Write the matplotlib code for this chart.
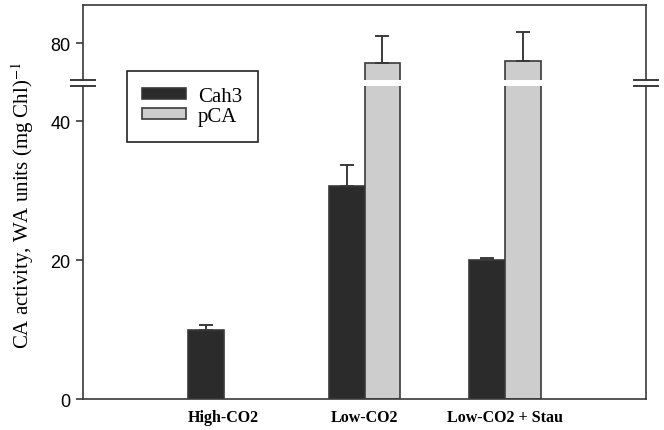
import matplotlib
matplotlib.use('Agg')
import matplotlib.pyplot as plt
import numpy as np
from matplotlib.lines import Line2D

plt.rcParams['mathtext.fontset'] = 'stix'

groups = ['High-CO2', 'Low-CO2', 'Low-CO2 + Stau']
cah3 = [9.9, 30.7, 20.0]
cah3_err = [0.8, 3.0, 0.3]
pca = [np.nan, 77.2, 77.45]
pca_err = [np.nan, 3.9, 4.2]

dark = '#2b2b2b'
light = '#cdcdcd'
edge = '#3a3a3a'

fig = plt.figure(figsize=(6.64, 4.31), dpi=100)
left, width = 0.125, 0.848
ax_top = fig.add_axes([left, 0.812, width, 0.175])
ax_low = fig.add_axes([left, 0.0719, width, 0.7251])

x = np.arange(1, len(groups) + 1)
w = 0.255
for ax in (ax_top, ax_low):
    ax.bar(x - w / 2, cah3, w, color=dark, edgecolor=edge, linewidth=1.2, label='Cah3')
    ax.bar(x + w / 2, pca, w, color=light, edgecolor=edge, linewidth=1.2, label='pCA')
    ax.errorbar(x - w / 2, cah3, yerr=[np.zeros(3), cah3_err], fmt='none',
                ecolor=edge, elinewidth=1.4, capsize=4.7, capthick=1.4)
    ax.errorbar(x + w / 2, pca, yerr=[np.zeros(3), pca_err], fmt='none',
                ecolor=edge, elinewidth=1.4, capsize=4.7, capthick=1.4)
    ax.set_xlim(0, 4)
    for s in ax.spines.values():
        s.set_linewidth(1.2)
        s.set_color(edge)
    ax.tick_params(axis='y', direction='out', length=5, width=1.2, color=edge,
                   labelsize=13, labelfontfamily='Liberation Sans', pad=4)

ax_low.set_ylim(0, 45)
ax_low.set_yticks([0, 20, 40])
ax_low.spines['top'].set_visible(False)
ax_low.set_xticks(x)
ax_low.set_xticklabels(groups, fontfamily='Liberation Serif', fontweight='bold', fontsize=11.5)
ax_low.tick_params(axis='x', length=0, pad=7)

ax_top.set_ylim(74.7, 85.55)
ax_top.set_yticks([80])
ax_top.spines['bottom'].set_visible(False)
ax_top.set_xticks([])

# break marks
d = 12 / 563
for xa in (0, 1):
    ax_top.add_line(Line2D([xa - d, xa + d], [0, 0], transform=ax_top.transAxes,
                           color=edge, lw=1.4, clip_on=False))
    ax_low.add_line(Line2D([xa - d, xa + d], [1, 1], transform=ax_low.transAxes,
                           color=edge, lw=1.4, clip_on=False))

handles, labels = ax_low.get_legend_handles_labels()
leg = fig.legend(handles, labels, loc='upper left', bbox_to_anchor=(0.191, 0.833),
                 prop={'family': 'Liberation Serif', 'size': 15}, frameon=True,
                 fancybox=False, edgecolor='#222222', framealpha=1,
                 handlelength=2.1, handleheight=0.42, labelspacing=0.08,
                 borderpad=0.75, handletextpad=0.55, borderaxespad=0)
leg.get_frame().set_linewidth(1.2)

fig.text(0.034, 0.524, 'CA activity, WA units (mg Chl)$^{-1}$', rotation=90,
         ha='center', va='center', fontfamily='Liberation Serif', fontsize=15)

fig.savefig('out.png', dpi=100)
